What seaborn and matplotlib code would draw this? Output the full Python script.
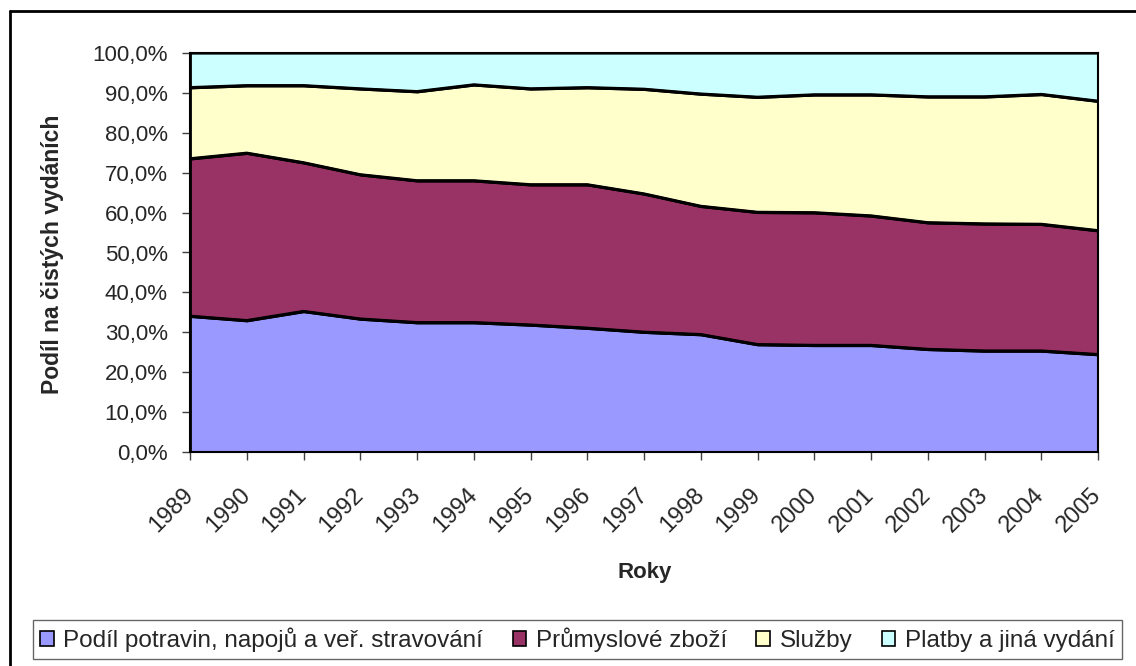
import numpy as np
import pandas as pd
import seaborn as sns
import matplotlib.pyplot as plt
from matplotlib.lines import Line2D
from matplotlib.ticker import FuncFormatter

roky = [1989, 1990, 1991, 1992, 1993, 1994, 1995, 1996, 1997,
        1998, 1999, 2000, 2001, 2002, 2003, 2004, 2005]

# podíly v procentech
potraviny = [34.1, 33.0, 35.3, 33.4, 32.5, 32.5, 31.9, 31.1, 30.1,
             29.5, 27.0, 26.8, 26.8, 25.8, 25.4, 25.4, 24.5]
prumysl = [39.4, 41.9, 37.2, 36.1, 35.5, 35.5, 35.1, 35.9, 34.6,
           32.1, 33.1, 33.2, 32.4, 31.7, 31.8, 31.7, 31.0]
sluzby = [17.8, 16.9, 19.3, 21.5, 22.3, 24.0, 24.0, 24.3, 26.2,
          28.1, 28.8, 29.5, 30.3, 31.5, 31.8, 32.5, 32.4]
platby = [8.7, 8.2, 8.2, 9.0, 9.7, 8.0, 9.0, 8.7, 9.1,
          10.3, 11.1, 10.5, 10.5, 11.0, 11.0, 10.4, 12.1]

nazvy = ['Podíl potravin, napojů a veř. stravování', 'Průmyslové zboží',
         'Služby', 'Platby a jiná vydání']
barvy = ['#9999FF', '#993366', '#FFFFCC', '#CCFFFF']

df = pd.DataFrame({'rok': roky, nazvy[0]: potraviny, nazvy[1]: prumysl,
                   nazvy[2]: sluzby, nazvy[3]: platby})

sns.set_theme(style='white')
plt.rcParams['font.family'] = ['Liberation Sans', 'DejaVu Sans']

FS = 16

fig = plt.figure(figsize=(11.36, 6.66), dpi=100)
ax = fig.add_axes([190 / 1136, 1 - 452.3 / 666, 908 / 1136, 399.6 / 666])

x = np.arange(len(roky))
polys = ax.stackplot(x, [df[n] for n in nazvy], labels=nazvy, colors=barvy,
                     edgecolor='black', linewidth=2)

# hranice mezi vrstvami
kumul = df[nazvy].cumsum(axis=1)
for n in nazvy[:3]:
    sns.lineplot(x=x, y=kumul[n].values, ax=ax, color='black', linewidth=2, legend=False)

ax.set_xlim(0, len(roky) - 1)
ax.set_ylim(0, 100)
ax.set_yticks(np.arange(0, 101, 10))
ax.yaxis.set_major_formatter(FuncFormatter(lambda v, p: f'{v:.1f}%'.replace('.', ',')))
ax.set_xticks(x)
ax.set_xticklabels([str(r) for r in roky], rotation=45, ha='right',
                   va='center', rotation_mode='anchor')
ax.tick_params(axis='both', which='major', labelsize=FS, length=6, width=1,
               color='#404040', direction='out', bottom=True, left=True)
ax.tick_params(axis='x', pad=22, labelsize=17)
ax.tick_params(axis='y', pad=10)

for s in ax.spines.values():
    s.set_color('black')
    s.set_linewidth(1.5)

ax.set_xlabel('Roky', fontsize=FS, fontweight='bold')
ax.set_ylabel('Podíl na čistých vydáních', fontsize=16.5, fontweight='bold')
ax.xaxis.set_label_coords(0.501, -0.30)
ax.yaxis.set_label_coords(-0.151, 0.495)
ax.xaxis.label.set_va('center')
ax.yaxis.label.set_va('center')

# legenda dole
leg = fig.legend(handles=polys, labels=nazvy, loc='center', ncol=4, mode='expand',
                 bbox_to_anchor=(33 / 1136, 1 - 662 / 666, 1089 / 1136, 45 / 666),
                 fontsize=17.5, frameon=True, fancybox=False, handlelength=0.55,
                 handleheight=0.55, handletextpad=0.4, borderaxespad=0, borderpad=0.3)
leg.get_frame().set_edgecolor('#404040')
leg.get_frame().set_linewidth(1)
for h in leg.legend_handles:
    h.set_linewidth(1.2)

# ramecek kolem celeho grafu
fig.add_artist(Line2D([10 / 1136, 10 / 1136], [0, 1 - 11 / 666], color='black', lw=2,
                      transform=fig.transFigure))
fig.add_artist(Line2D([10 / 1136, 1], [1 - 11 / 666, 1 - 11 / 666], color='black', lw=2,
                      transform=fig.transFigure))

fig.savefig('out.png', dpi=100)
